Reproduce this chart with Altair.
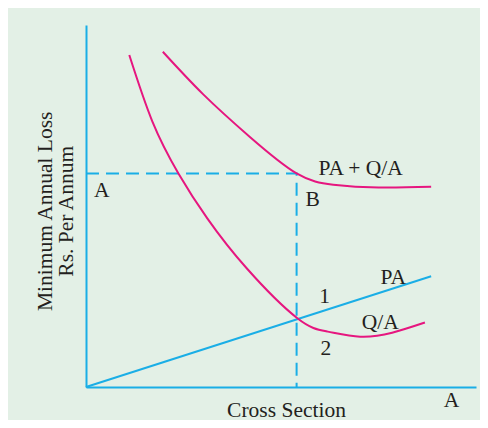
import altair as alt
import pandas as pd

# Curves (data units: x = cross section 0..100, y = annual loss 0..100)
qa_x = [11.1, 17.0, 23.7, 31.1, 41.2, 54.2, 62.0, 70.3, 78.5, 86.9]
qa_y = [91.7, 73.4, 59.0, 46.6, 32.8, 19.0, 15.3, 13.9, 15.0, 17.8]

tot_x = [19.7, 30.0, 42.1, 54.0, 63.4, 75.0, 88.5]
tot_y = [92.6, 80.9, 69.0, 59.0, 55.9, 55.1, 55.3]

pa_x = [0.0, 88.5]
pa_y = [0.0, 30.6]

# Optimum point B
opt_x = 54.0
opt_y = 59.0

label_text = ["PA + Q/A", "A", "B", "PA", "1", "Q/A", "2", "A"]
label_x = [59.6, 2.05, 56.3, 75.5, 59.8, 70.7, 60.1, 91.7]
label_y = [58.6, 52.5, 50.0, 28.5, 23.1, 15.9, 8.8, -5.6]

PINK = "#e6167f"
CYAN = "#1aaee6"
BG = "#e3f0e6"
TXT = "#231f20"
FONT = "Liberation Serif"
FS = 21.5

xs = alt.Scale(domain=[0, 100], nice=False, zero=False)
ys = alt.Scale(domain=[0, 100], nice=False, zero=False)

qa = pd.DataFrame({"x": qa_x, "y": qa_y, "o": range(len(qa_x))})
tot = pd.DataFrame({"x": tot_x, "y": tot_y, "o": range(len(tot_x))})
pa = pd.DataFrame({"x": pa_x, "y": pa_y, "o": range(len(pa_x))})
dash = pd.DataFrame({"x": [0, opt_x, opt_x], "y": [opt_y, opt_y, 0], "o": [0, 1, 2]})
labels = pd.DataFrame({"t": label_text, "x": label_x, "y": label_y})

xenc = alt.X("x:Q", scale=xs,
             axis=alt.Axis(title="Cross Section", labels=False, ticks=False, grid=False,
                           domainColor=CYAN, domainWidth=2, titleFont=FONT, titleFontSize=FS,
                           titleFontWeight="normal", titleColor=TXT,
                           titleX=200, titleY=29, titleBaseline="alphabetic", titleAlign="center"))
yenc = alt.Y("y:Q", scale=ys,
             axis=alt.Axis(title=["Minimum Annual Loss", "Rs. Per Annum"], labels=False, ticks=False,
                           grid=False, domainColor=CYAN, domainWidth=2, titleFont=FONT,
                           titleFontSize=FS, titleFontWeight="normal", titleColor=TXT,
                           titleX=-34.3, titleY=185.8, titleBaseline="alphabetic", titleAlign="center",
                           titleAngle=270, titleLineHeight=21))

base_axes = alt.Chart(pa).mark_line(color=CYAN, strokeWidth=2).encode(x=xenc, y=yenc, order="o:Q")

qa_line = alt.Chart(qa).mark_line(color=PINK, strokeWidth=2, interpolate="natural").encode(
    x="x:Q", y="y:Q", order="o:Q")
tot_line = alt.Chart(tot).mark_line(color=PINK, strokeWidth=2, interpolate="natural").encode(
    x="x:Q", y="y:Q", order="o:Q")
dash_line = alt.Chart(dash).mark_line(color=CYAN, strokeWidth=2, strokeDash=[13, 7]).encode(
    x="x:Q", y="y:Q", order="o:Q")
text = alt.Chart(labels).mark_text(font=FONT, fontSize=FS, color=TXT, align="left",
                                   baseline="alphabetic").encode(x="x:Q", y="y:Q", text="t:N")

chart = alt.layer(dash_line, base_axes, qa_line, tot_line, text).properties(
    width=390, height=362,
    autosize=alt.AutoSizeParams(type="none"),
    padding={"left": 78, "top": 17, "right": 4, "bottom": 33},
    background=BG,
).configure_view(stroke=None)

chart.save("out.html", embed_options={"renderer": "svg", "actions": False})
